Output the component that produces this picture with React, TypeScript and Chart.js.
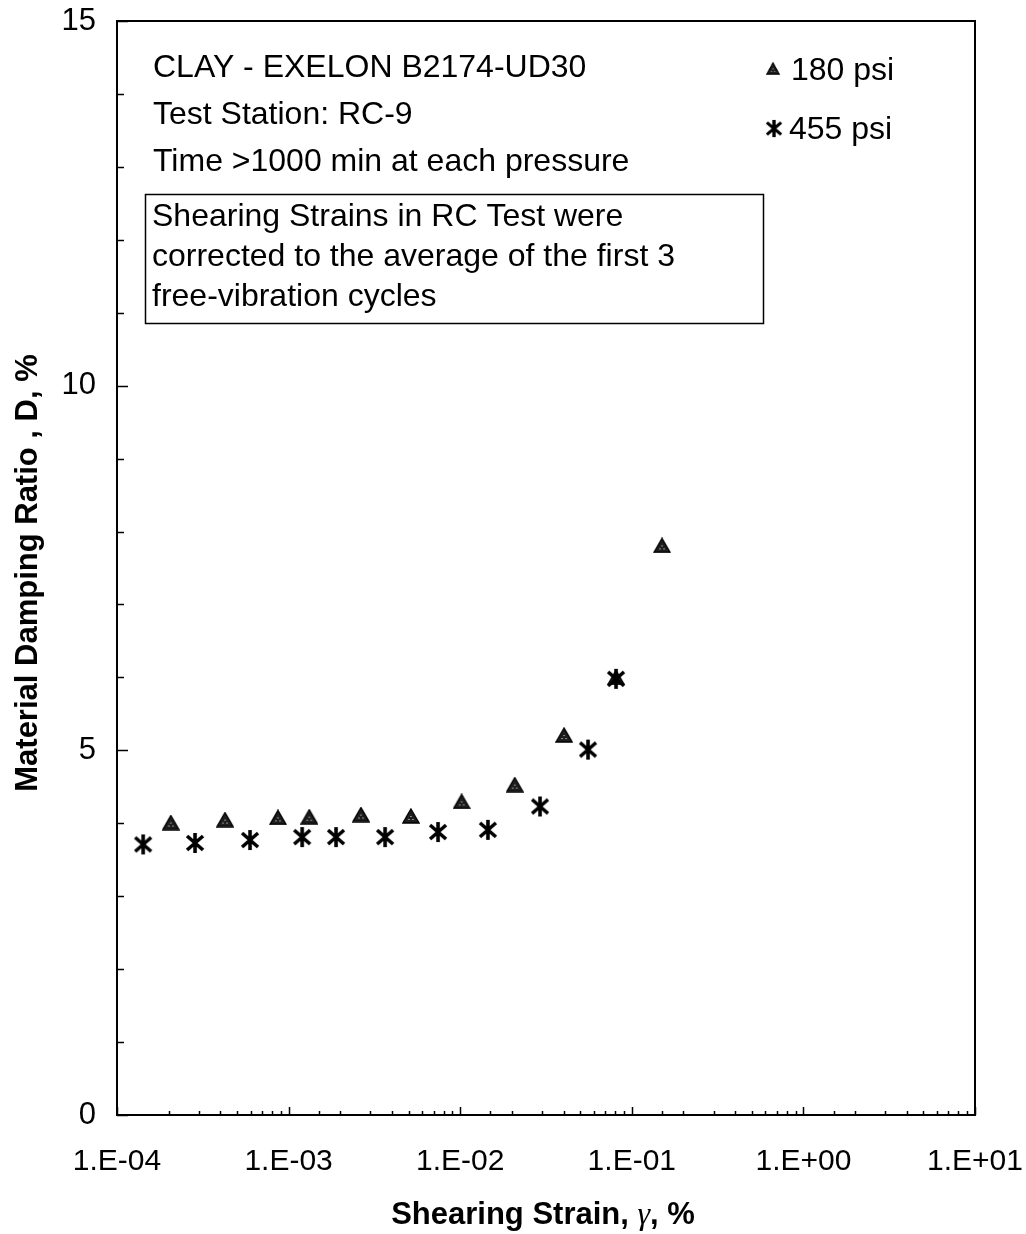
import React, { useEffect, useRef } from 'react';
import { Chart, registerables } from 'chart.js';

Chart.register(...registerables);

// ---- Data ----
const strain180 = [2.06e-4, 4.26e-4, 8.67e-4, 1.32e-3, 2.64e-3, 5.16e-3, 1.02e-2, 2.08e-2, 4.03e-2, 8.09e-2, 0.150];
const damping180 = [4.01, 4.05, 4.08, 4.09, 4.12, 4.10, 4.30, 4.53, 5.21, 6.0, 7.81];
const strain455 = [1.42e-4, 2.85e-4, 5.96e-4, 1.20e-3, 1.89e-3, 3.65e-3, 7.43e-3, 1.45e-2, 2.92e-2, 5.56e-2, 8.09e-2];
const damping455 = [3.71, 3.73, 3.77, 3.81, 3.81, 3.81, 3.88, 3.91, 4.23, 5.01, 5.98];

const seriesNames = ['180 psi', '455 psi'];
const xTickLabels = ['1.E-04', '1.E-03', '1.E-02', '1.E-01', '1.E+00', '1.E+01'];
const yTickLabels = ['0', '5', '10', '15'];
const infoLines = ['CLAY - EXELON B2174-UD30', 'Test Station: RC-9', 'Time >1000 min at each pressure'];
const noteLines = ['Shearing Strains in RC Test were', 'corrected to the average of the first 3', 'free-vibration cycles'];
const yTitle = 'Material Damping Ratio , D, %';
const xTitleParts = ['Shearing Strain, ', 'γ', ', %'];

const SANS = '"Liberation Sans", Arial, sans-serif';
const SERIF = '"Liberation Serif", "Times New Roman", serif';

function makeTriangle(): HTMLCanvasElement {
  const c = document.createElement('canvas');
  c.width = 18; c.height = 16;
  const g = c.getContext('2d')!;
  g.beginPath();
  g.moveTo(9, 1); g.lineTo(17, 15); g.lineTo(1, 15); g.closePath();
  g.fillStyle = '#1e1e1e';
  g.fill();
  g.lineWidth = 1.4; g.strokeStyle = '#000'; g.stroke();
  g.fillStyle = '#8a8a8a';
  g.fillRect(8, 8, 2, 1); g.fillRect(6, 11, 2, 1); g.fillRect(10, 11, 2, 1);
  return c;
}

function makeStar(): HTMLCanvasElement {
  const c = document.createElement('canvas');
  c.width = 20; c.height = 22;
  const g = c.getContext('2d')!;
  g.strokeStyle = '#000'; g.lineWidth = 3.6; g.lineCap = 'butt';
  g.beginPath();
  g.moveTo(10, 1); g.lineTo(10, 21);
  g.moveTo(2, 4); g.lineTo(18, 18);
  g.moveTo(18, 4); g.lineTo(2, 18);
  g.stroke();
  return c;
}

function isPow10(v: number) {
  const l = Math.log10(v);
  return Math.abs(l - Math.round(l)) < 1e-9;
}

export default function App() {
  const ref = useRef<HTMLCanvasElement | null>(null);

  useEffect(() => {
    const canvas = ref.current!;
    const tri = makeTriangle();
    const star = makeStar();

    const decor = {
      id: 'decor',
      beforeDatasetsDraw(chart: any) {
        const { ctx, chartArea: a, scales } = chart;
        ctx.save();
        ctx.strokeStyle = '#000';
        ctx.lineWidth = 2;
        ctx.strokeRect(a.left, a.top, a.right - a.left, a.bottom - a.top);
        ctx.lineWidth = 1.5;
        ctx.beginPath();
        scales.x.ticks.forEach((t: any) => {
          const px = Math.round(scales.x.getPixelForValue(t.value)) + 0.5;
          const len = isPow10(t.value) ? 8 : 4;
          ctx.moveTo(px, a.bottom);
          ctx.lineTo(px, a.bottom - len);
        });
        scales.y.ticks.forEach((t: any) => {
          const py = Math.round(scales.y.getPixelForValue(t.value)) + 0.5;
          const len = t.value % 5 === 0 ? 11 : 7;
          ctx.moveTo(a.left, py);
          ctx.lineTo(a.left + len, py);
        });
        ctx.stroke();
        ctx.restore();
      },
      afterDraw(chart: any) {
        const { ctx, chartArea: a } = chart;
        ctx.save();
        ctx.fillStyle = '#000';
        ctx.textAlign = 'left';
        ctx.textBaseline = 'alphabetic';
        ctx.font = `32px ${SANS}`;
        const infoBase = [77, 124, 171];
        infoLines.forEach((s, i) => ctx.fillText(s, 153, infoBase[i]));

        // note box
        ctx.fillStyle = '#fff';
        ctx.fillRect(145, 194, 618, 129);
        ctx.strokeStyle = '#000';
        ctx.lineWidth = 1.5;
        ctx.strokeRect(145.5, 194.5, 618, 129);
        ctx.fillStyle = '#000';
        const noteBase = [226, 266, 306];
        noteLines.forEach((s, i) => ctx.fillText(s, 152, noteBase[i]));

        // legend
        ctx.drawImage(tri, 766, 62, 14, 13);
        ctx.fillText(seriesNames[0], 791, 80);
        ctx.drawImage(star, 765, 119, 18, 19);
        ctx.fillText(seriesNames[1], 789, 139);

        // y title
        ctx.save();
        ctx.translate(37, 573);
        ctx.rotate(-Math.PI / 2);
        ctx.textAlign = 'center';
        ctx.font = `bold 31px ${SANS}`;
        ctx.fillText(yTitle, 0, 0);
        ctx.restore();

        // x title with serif gamma
        const fonts = [`bold 31px ${SANS}`, `italic 32px ${SERIF}`, `bold 31px ${SANS}`];
        const widths = xTitleParts.map((p, i) => { ctx.font = fonts[i]; return ctx.measureText(p).width; });
        const total = widths.reduce((s, w) => s + w, 0);
        let x = (a.left + a.right) / 2 - total / 2 - 3;
        xTitleParts.forEach((p, i) => {
          ctx.font = fonts[i];
          ctx.fillText(p, x, 1224);
          x += widths[i];
        });
        ctx.restore();
      },
    };

    const chart = new Chart(canvas, {
      type: 'scatter',
      data: {
        datasets: [
          {
            label: seriesNames[1],
            data: strain455.map((x, i) => ({ x, y: damping455[i] })),
            pointStyle: star as any,
            pointRadius: 10,
            showLine: false,
          },
          {
            label: seriesNames[0],
            data: strain180.map((x, i) => ({ x, y: damping180[i] })),
            pointStyle: tri as any,
            pointRadius: 9,
            showLine: false,
          },
        ],
      },
      options: {
        responsive: false,
        animation: false,
        devicePixelRatio: 1,
        layout: { padding: { left: 0, top: 21, right: 51, bottom: 0 } },
        plugins: {
          legend: { display: false },
          tooltip: { enabled: false },
          title: { display: false },
        },
        scales: {
          x: {
            type: 'logarithmic',
            min: 1e-4,
            max: 10,
            grid: { display: false, drawTicks: false },
            border: { display: false },
            afterFit: (s: any) => { s.height = 119; s.paddingLeft = 0; s.paddingRight = 0; },
            ticks: {
              autoSkip: false,
              maxRotation: 0,
              minRotation: 0,
              padding: 29,
              color: '#000',
              font: { family: SANS, size: 30 },
              callback: (v: any) => {
                const n = Number(v);
                if (!isPow10(n)) return '';
                return xTickLabels[Math.round(Math.log10(n)) + 4] ?? '';
              },
            },
          },
          y: {
            type: 'linear',
            min: 0,
            max: 15,
            grid: { display: false, drawTicks: false },
            border: { display: false },
            afterFit: (s: any) => { s.width = 117; s.paddingTop = 0; s.paddingBottom = 0; },
            ticks: {
              stepSize: 1,
              autoSkip: false,
              padding: 21,
              color: '#000',
              font: { family: SANS, size: 31 },
              callback: (v: any) => {
                const n = Number(v);
                return n % 5 === 0 ? yTickLabels[n / 5] : '';
              },
            },
          },
        },
      },
      plugins: [decor],
    });

    return () => chart.destroy();
  }, []);

  return (
    <div style={{ position: 'absolute', left: 0, top: 0, width: 1026, height: 1234, background: '#fff' }}>
      <canvas ref={ref} width={1026} height={1234} style={{ display: 'block' }} />
    </div>
  );
}
